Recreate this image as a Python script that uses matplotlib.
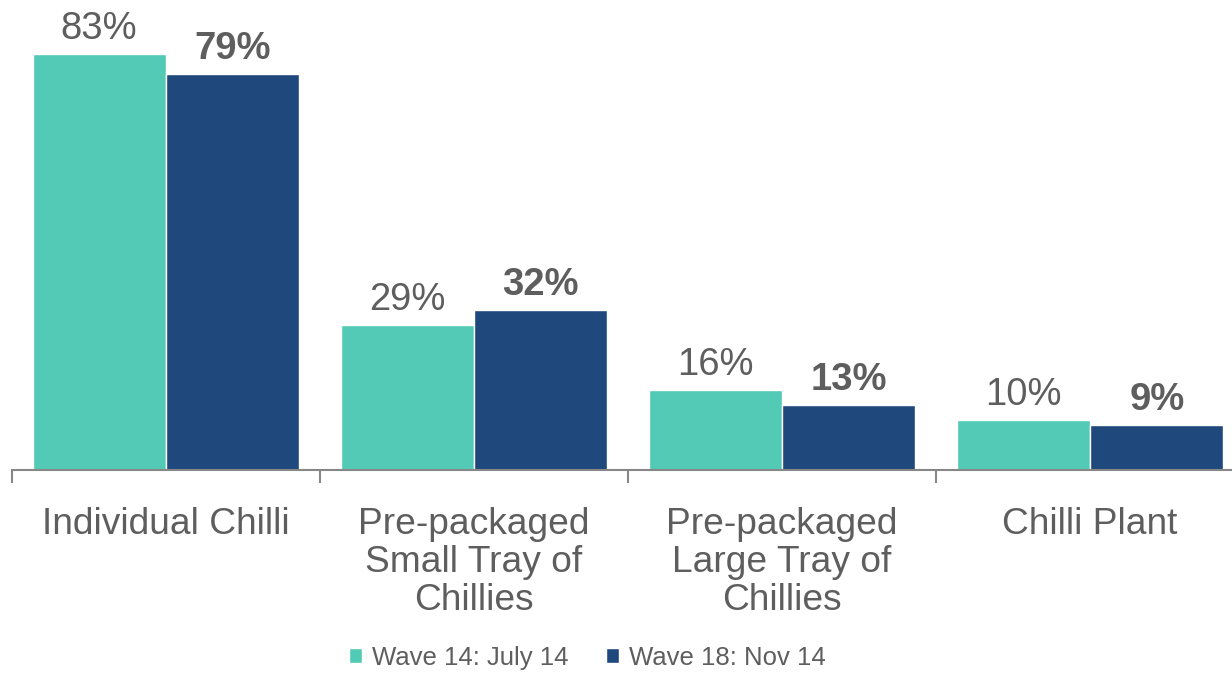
import numpy as np
import matplotlib.pyplot as plt
from matplotlib.ticker import FixedLocator

plt.rcParams['font.family'] = ['Liberation Sans', 'DejaVu Sans']

categories = ['Individual Chilli', 'Pre-packaged\nSmall Tray of\nChillies',
              'Pre-packaged\nLarge Tray of\nChillies', 'Chilli Plant']
wave14 = [83, 29, 16, 10]
wave18 = [79, 32, 13, 9]
series_names = ['Wave 14: July 14', 'Wave 18: Nov 14']

green = '#52cab6'
navy = '#1f497d'
grey_text = '#5e5e5e'

fig = plt.figure(figsize=(12.32, 6.76), dpi=100)
ax = fig.add_axes([12 / 1232, 206 / 676, 1 - 12 / 1232, 470 / 676])

x = np.arange(len(categories))
w = 0.432
b1 = ax.bar(x - 0.217, wave14, w, color=green, edgecolor='white', linewidth=1, label=series_names[0])
b2 = ax.bar(x + 0.217, wave18, w, color=navy, edgecolor='white', linewidth=1, label=series_names[1])

# value labels: first wave plain, latest wave bold
for rect, v in zip(b1, wave14):
    ax.annotate(f'{v}%', (rect.get_x() + rect.get_width() / 2, rect.get_height()),
                xytext=(0, 5), textcoords='offset points', ha='center', va='bottom',
                fontsize=27.5, color=grey_text)
for rect, v in zip(b2, wave18):
    ax.annotate(f'{v}%', (rect.get_x() + rect.get_width() / 2, rect.get_height()),
                xytext=(0, 5), textcoords='offset points', ha='center', va='bottom',
                fontsize=27.5, color=grey_text, fontweight='bold')

ax.set_xlim(-0.5, 3.461)
ax.set_ylim(0, 93.8)
ax.set_xticks(x)
ax.set_xticklabels(categories, fontsize=26.7, color=grey_text, linespacing=1.1)
ax.tick_params(axis='x', which='major', length=0, pad=27)
ax.xaxis.set_minor_locator(FixedLocator([-0.5, 0.5, 1.5, 2.5]))
ax.tick_params(axis='x', which='minor', length=9, width=1.5, color='#878787')
ax.set_yticks([])
for s in ['top', 'right', 'left']:
    ax.spines[s].set_visible(False)
ax.spines['bottom'].set_color('#878787')
ax.spines['bottom'].set_linewidth(1.5)

fig.legend(handles=[b1, b2], loc='center', bbox_to_anchor=(0.477, 0.027), ncol=2,
           frameon=False, fontsize=18.5, labelcolor=grey_text, handlelength=0.5,
           handleheight=0.5, handletextpad=0.4, columnspacing=1.45,
           borderpad=0, borderaxespad=0)

fig.savefig('out.png', dpi=100)
